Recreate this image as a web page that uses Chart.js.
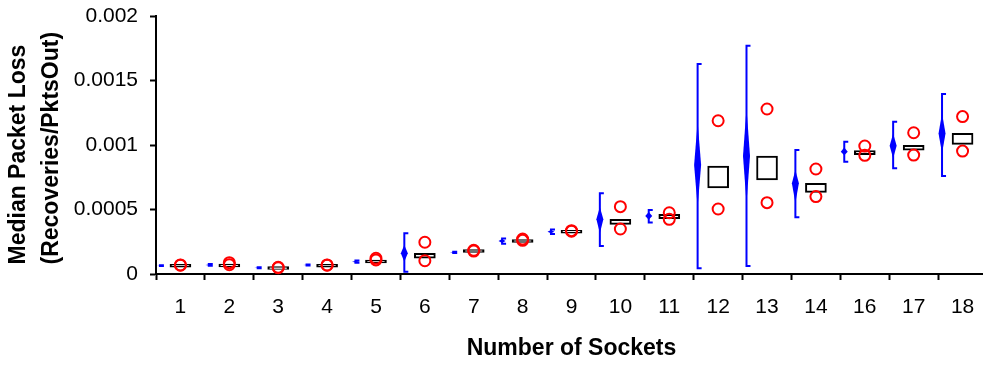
<!DOCTYPE html>
<html>
<head>
<meta charset="utf-8">
<script src="https://cdn.jsdelivr.net/npm/chart.js@4/dist/chart.umd.min.js"></script>
<style>
  html, body { margin: 0; padding: 0; background: #fff; overflow: hidden; }
  /* axis runs a few px past the right edge in the original */
  #wrap { width: 987px; height: 365px; }
</style>
</head>
<body>
<div id="wrap"><canvas id="lossChart"></canvas></div>
<script>
// ---- data ----
const sockets = ["1", "2", "3", "4", "5", "6", "7", "8", "9", "10", "11", "12", "13", "14", "16", "17", "18"];

// black boxes (median range)
const boxLow  = [0.000053, 0.000054, 0.000035, 0.000053, 0.000086, 0.000122, 0.000167, 0.000245, 0.000317, 0.000385, 0.000429, 0.000667, 0.000729, 0.000633, 0.000925, 0.000959, 0.001005];
const boxHigh = [0.000075, 0.000076, 0.000057, 0.000075, 0.000108, 0.000160, 0.000189, 0.000267, 0.000339, 0.000424, 0.000463, 0.000837, 0.000915, 0.000703, 0.000956, 0.000998, 0.001090];

// red circles
const upperRun = [0.000070, 0.000088, 0.000052, 0.000070, 0.000122, 0.000246, 0.000184, 0.000271, 0.000336, 0.000522, 0.000475, 0.001188, 0.001279, 0.000814, 0.000992, 0.001095, 0.001220];
const lowerRun = [0.000068, 0.000072, 0.000049, 0.000068, 0.000109, 0.000103, 0.000178, 0.000261, 0.000332, 0.000349, 0.000424, 0.000504, 0.000553, 0.000600, 0.000920, 0.000922, 0.000953];

// blue error bars and diamonds
const errLow  = [0.000062, 0.000064, 0.000045, 0.000066, 0.000088, 0.000018, 0.000163, 0.000235, 0.000310, 0.000217, 0.000400, 0.000044, 0.000062, 0.000440, 0.000870, 0.000819, 0.000760];
const errHigh = [0.000068, 0.000078, 0.000053, 0.000074, 0.000104, 0.000315, 0.000173, 0.000275, 0.000345, 0.000626, 0.000496, 0.001628, 0.001770, 0.000961, 0.001026, 0.001180, 0.001395];
const diaLow  = [0.000064, 0.000066, 0.000047, 0.000068, 0.000090, 0.000095, 0.000165, 0.000240, 0.000315, 0.000315, 0.000420, 0.000520, 0.000550, 0.000550, 0.000920, 0.000897, 0.000936];
const diaMid  = [0.000065, 0.000070, 0.000049, 0.000070, 0.000095, 0.000160, 0.000168, 0.000256, 0.000328, 0.000424, 0.000450, 0.000845, 0.000915, 0.000703, 0.000948, 0.000995, 0.001090];
const diaHigh = [0.000066, 0.000074, 0.000051, 0.000072, 0.000100, 0.000225, 0.000171, 0.000272, 0.000341, 0.000520, 0.000480, 0.001180, 0.001287, 0.000806, 0.000980, 0.001090, 0.001246];

const yTicks = [0, 0.0005, 0.001, 0.0015, 0.002];
const yTickLabels = ["0", "0.0005", "0.001", "0.0015", "0.002"];

const FONT = "'Liberation Sans', Arial, Helvetica, sans-serif";
const BLUE = "#0000ff";

// bracket + diamond drawn left of each category centre
const errorBars = {
  id: "errorBars",
  afterDatasetsDraw(chart) {
    const { ctx, scales: { x, y } } = chart;
    const band = x.getPixelForValue(1) - x.getPixelForValue(0);
    ctx.save();
    ctx.strokeStyle = BLUE;
    ctx.fillStyle = BLUE;
    ctx.lineWidth = 2;
    sockets.forEach((_, i) => {
      const px = x.getPixelForValue(i) - band * 0.42;
      const top = y.getPixelForValue(errHigh[i]);
      const bot = y.getPixelForValue(errLow[i]);
      ctx.beginPath();
      ctx.moveTo(px + 4, top);
      ctx.lineTo(px, top);
      ctx.lineTo(px, bot);
      ctx.lineTo(px + 4, bot);
      ctx.stroke();

      const dt = y.getPixelForValue(diaHigh[i]);
      const dm = y.getPixelForValue(diaMid[i]);
      const db = y.getPixelForValue(diaLow[i]);
      ctx.beginPath();
      ctx.moveTo(px, dt);
      ctx.lineTo(px + 3.5, dm);
      ctx.lineTo(px, db);
      ctx.lineTo(px - 3.5, dm);
      ctx.closePath();
      ctx.fill();
    });
    ctx.restore();
  }
};

const redPoints = (data) => ({
  type: "line",
  data: data,
  showLine: false,
  pointRadius: 5.5,
  pointHoverRadius: 5.5,
  pointBorderWidth: 2,
  pointBorderColor: "#ff0000",
  pointBackgroundColor: "rgba(0,0,0,0)",
  clip: false,
  order: 1,
});

new Chart(document.getElementById("lossChart"), {
  type: "bar",
  data: {
    labels: sockets,
    datasets: [
      {
        data: boxLow.map((lo, i) => [lo, boxHigh[i]]),
        backgroundColor: "#ffffff",
        borderColor: "#000000",
        borderWidth: 2,
        borderSkipped: false,
        barThickness: 21,
        order: 2,
      },
      redPoints(upperRun),
      redPoints(lowerRun),
    ],
  },
  options: {
    responsive: true,
    maintainAspectRatio: false,
    animation: false,
    layout: { autoPadding: false, padding: { top: 16, right: 0, bottom: 0, left: 0 } },
    plugins: { legend: { display: false }, tooltip: { enabled: false } },
    scales: {
      x: {
        offset: true,
        afterFit: (s) => {
          s.height = 91;
          s.paddingLeft = 0;
          s.paddingRight = 0;
        },
        grid: { offset: true, drawOnChartArea: false, tickLength: 6, tickColor: "#000", tickWidth: 2 },
        border: { color: "#000", width: 2 },
        ticks: { color: "#000", font: { family: FONT, size: 21 }, padding: 15, maxRotation: 0, autoSkip: false },
        title: {
          display: true,
          text: "Number of Sockets",
          color: "#000",
          font: { family: FONT, size: 23, weight: "bold" },
          padding: { top: 0, bottom: 3 },
        },
      },
      y: {
        min: 0,
        max: 0.002,
        afterFit: (s) => {
          s.width = 156;
          s.paddingTop = 0;
          s.paddingBottom = 0;
        },
        afterBuildTicks: (s) => { s.ticks = yTicks.map((v) => ({ value: v })); },
        grid: { drawOnChartArea: false, tickLength: 6, tickColor: "#000", tickWidth: 2 },
        border: { color: "#000", width: 2 },
        ticks: {
          color: "#000",
          font: { family: FONT, size: 21 },
          padding: 12,
          callback: (v, i) => yTickLabels[i],
        },
        title: {
          display: true,
          // trailing spaces nudge the centred lines down like the original
          text: ["Median Packet Loss   ", "(Recoveries/PktsOut) "],
          color: "#000",
          font: { family: FONT, size: 23, weight: "bold", lineHeight: 1.4 },
          padding: { top: 3, bottom: 0 },
        },
      },
    },
  },
  plugins: [errorBars],
});
</script>
</body>
</html>
